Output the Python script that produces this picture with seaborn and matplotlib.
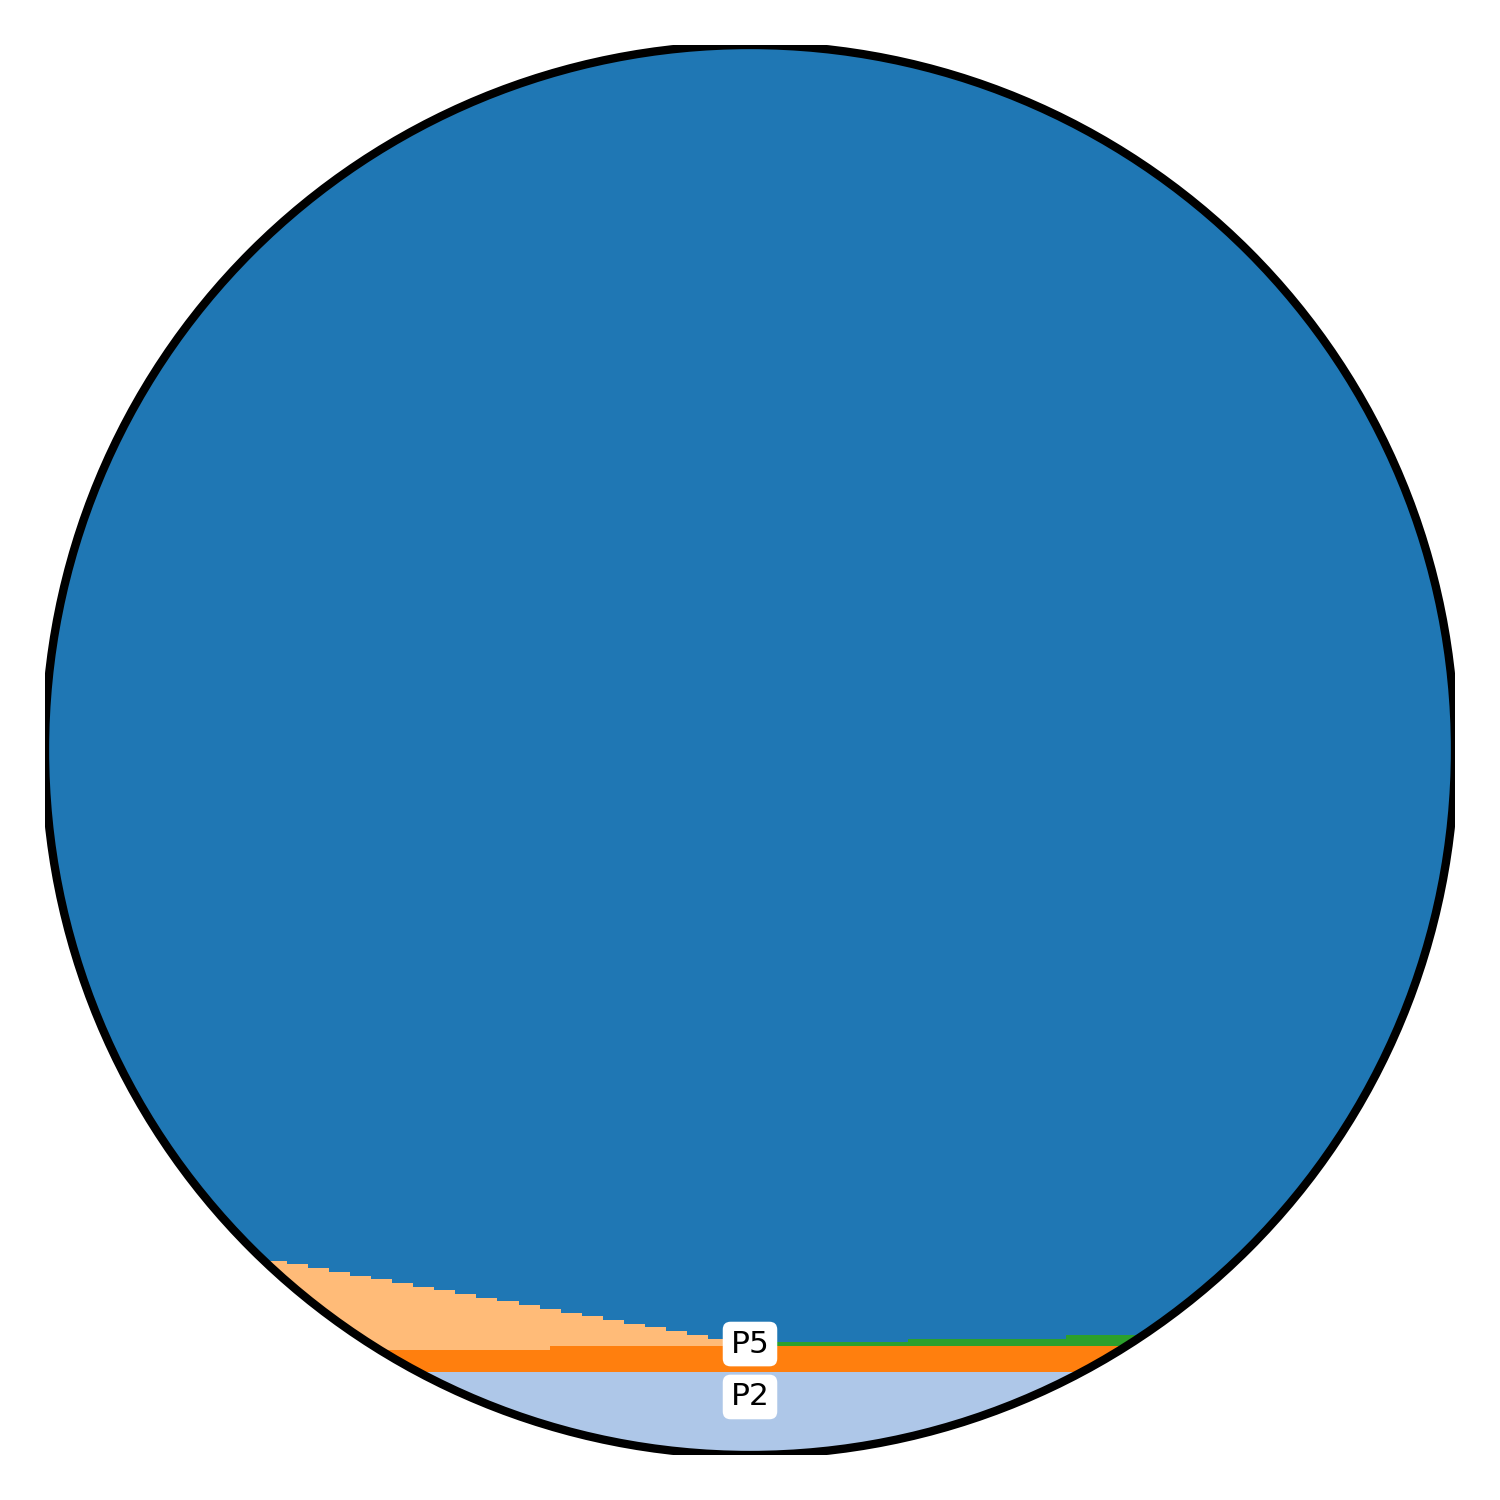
import numpy as np
import seaborn as sns
import matplotlib
matplotlib.use('Agg')
import matplotlib.pyplot as plt
from matplotlib.patches import Circle

# Datos: cortes del eje x (escalones) y valor de cada serie por tramo
x_edges = [0, 10.5, 11.5, 12.5, 13.5, 14.5, 15.5, 16.5, 17.5, 18.5, 19.5, 20.5,
           21.5, 22.5, 23.5, 24.0, 24.5, 25.5, 26.5, 27.5, 28.5, 29.5, 30.5,
           31.5, 32.5, 33.5, 41.0, 48.5, 67]

p2 = [3.55] * 28
p3 = [1.56] * 15 + [1.84] * 13
p4 = [0, 6.31, 6.10, 5.81, 5.53, 5.24, 5.00, 4.75, 4.46, 4.25, 3.97, 3.68,
      3.47, 3.19, 2.90, 2.62, 2.34, 2.13, 1.84, 1.56, 1.35, 1.06, 0.78,
      0.50, 0.28, 0, 0, 0]
p5 = [0] * 25 + [0.28, 0.50, 0.78]
total = 100
p1 = [total - a - b - c - d for a, b, c, d in zip(p2, p3, p4, p5)]

series_names = ['P2', 'P3', 'P4', 'P5', 'P1']
series_values = [p2, p3, p4, p5, p1]
labelled = ['P2', 'P5']

x_lim = (0, 67)
y_lim = (-2.34, 97.66)

###--------Gráfico------------
sns.set_style('white')
pal = sns.color_palette('tab20')
colors = {'P1': pal[0], 'P2': pal[1], 'P3': pal[2], 'P4': pal[3], 'P5': pal[4]}

fig = plt.figure(figsize=(15, 15), dpi=100)
ax = fig.add_axes([0.03, 0.03, 0.94, 0.94])
ax.set_xlim(*x_lim)
ax.set_ylim(*y_lim)
ax.set_axis_off()

clip = Circle((0.5, 0.5), 0.5, transform=ax.transAxes)

x = np.array(x_edges)
cum = np.zeros(len(x))
tops = {}
for i, (name, vals) in enumerate(zip(series_names, series_values)):
    v = np.append(vals, vals[-1])
    low = cum.copy() if i > 0 else np.full(len(x), y_lim[0])
    top = cum + v
    poly = ax.fill_between(x, low, top, step='post', color=colors[name], linewidth=0)
    poly.set_clip_path(clip)
    tops[name] = (cum.copy(), top)
    cum = top

# Etiquetas en el centro de cada capa (en el medio del eje x)
xc = sum(x_lim) / 2
idx = np.searchsorted(x, xc, side='right') - 1
for name in labelled:
    bottom, top = tops[name]
    yc = (bottom[idx] + top[idx]) / 2
    ax.text(xc, yc, name, ha='center', va='center', fontsize=22.5, color='black',
            bbox=dict(boxstyle='round,pad=0.25', fc='white', ec='none'), zorder=6)

ring = Circle((0.5, 0.5), 0.5, transform=ax.transAxes, fill=False,
              edgecolor='black', linewidth=6, zorder=5)
ax.add_patch(ring)

fig.savefig('out.png', dpi=100)
